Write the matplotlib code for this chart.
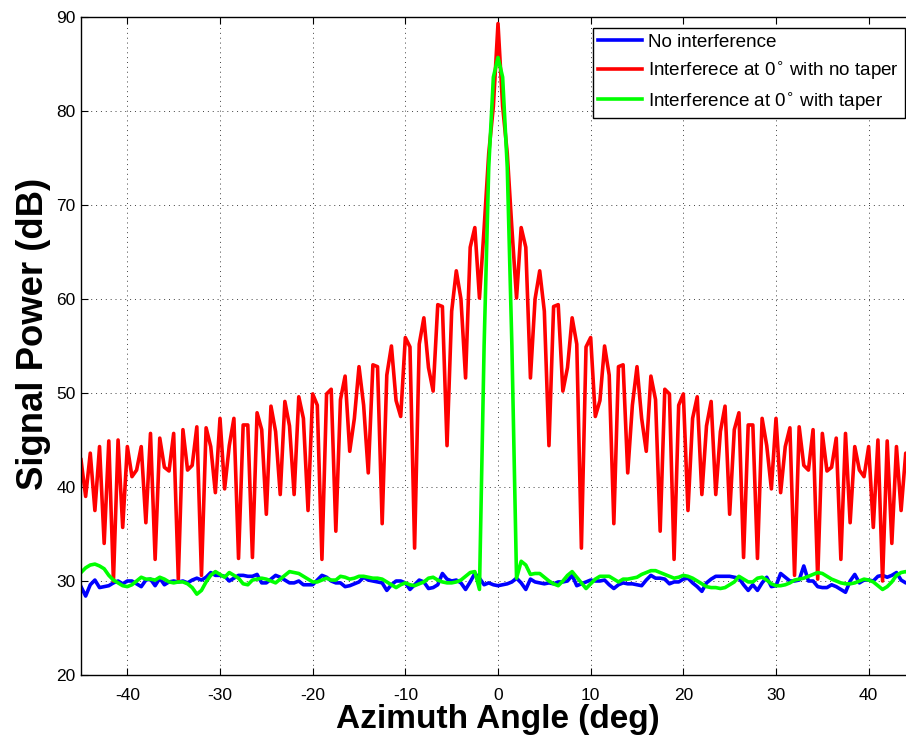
import numpy as np
import matplotlib
matplotlib.use("Agg")
import matplotlib.pyplot as plt

plt.rcParams['font.family'] = ['Liberation Sans', 'DejaVu Sans']
plt.rcParams['mathtext.fontset'] = 'dejavusans'
plt.rcParams['axes.unicode_minus'] = False

# azimuth samples, 0.5 deg apart
angle = np.linspace(-45, 45, 181)

# no interference (blue)
p_none = [
    29.4, 28.4, 29.6, 30.1, 29.3, 29.4, 29.5, 29.8, 30.0, 29.7, 30.0, 30.0, 29.7, 29.4, 30.1, 30.2,
    29.5, 30.3, 29.6, 29.9, 30.0, 29.9, 30.0, 29.8, 30.1, 30.3, 30.1, 30.4, 30.9, 30.6, 30.6,
    30.5, 30.0, 30.3, 30.6, 30.6, 30.5, 30.5, 30.7, 29.8, 29.8, 30.2, 30.6, 30.4, 30.1, 29.8,
    29.8, 30.0, 29.6, 29.6, 29.6, 30.1, 30.6, 30.4, 30.0, 29.8, 29.8, 29.4, 29.5, 29.7, 29.9,
    30.4, 30.1, 30.0, 29.9, 29.8, 29.0, 29.6, 30.0, 30.0, 29.8, 29.1, 29.6, 30.1, 29.9, 29.2,
    29.3, 29.6, 30.8, 30.2, 30.0, 30.1, 29.8, 29.1, 29.9, 30.8, 30.3, 29.6, 29.8, 29.6,
    29.5,
    29.6, 29.7, 29.9, 30.3, 29.8, 29.1, 30.2, 29.9, 29.8, 29.7, 29.8, 29.7, 29.9, 29.9, 30.0,
    30.6, 29.5, 29.7, 29.9, 30.1, 30.0, 30.0, 30.1, 29.6, 29.2, 29.6, 29.8, 29.7, 29.7, 29.6,
    29.5, 30.1, 30.6, 30.3, 30.3, 30.2, 29.7, 29.9, 29.9, 30.2, 30.3, 29.8, 29.4, 28.9, 29.8,
    30.2, 30.5, 30.5, 30.5, 30.5, 30.4, 30.3, 29.6, 29.0, 29.6, 29.0, 29.8, 30.4, 29.4,
    29.5, 30.8, 30.4, 30.0, 30.0, 30.1, 31.6, 30.0, 30.0, 29.4, 29.3, 29.3, 29.6, 29.4, 29.1,
    28.8, 30.0, 30.7, 29.8, 30.1, 30.1, 30.0, 30.5, 30.6, 30.4, 30.6, 30.9, 30.1, 29.8, 29.9, 29.8,
]

# interference at 0 deg, no taper (red)
p_notaper = [
    42.9, 39.0, 43.6, 37.5, 44.3, 34.0, 44.9, 30.0, 45.0, 35.7,
    44.3, 41.1, 41.8, 44.3, 36.2, 45.7, 32.3, 45.2, 42.1, 41.7,
    45.7, 30.2, 46.1, 41.8, 42.3, 46.4, 30.6, 46.3, 44.3, 39.4,
    47.3, 39.8, 44.4, 47.3, 32.4, 46.6, 46.6, 32.5, 47.9, 46.1,
    37.1, 48.6, 45.9, 39.2, 49.1, 46.5, 39.2, 49.6, 47.3, 37.5,
    49.9, 48.7, 32.3, 49.9, 50.4, 35.3, 49.3, 51.8, 43.8, 47.3,
    52.8, 48.7, 41.5, 53.0, 52.8, 36.1, 51.9, 55.0, 49.2, 47.5,
    55.9, 54.9, 33.5, 55.2, 58.0, 52.7, 50.2, 59.4, 59.2, 44.4,
    58.7, 63.0, 60.0, 51.6, 65.5, 67.6, 60.1, 67.5, 75.5, 80.5,
    89.3,
    80.5, 75.5, 67.5, 60.1, 67.6, 65.5, 51.6, 60.0, 63.0, 58.7,
    44.4, 59.2, 59.4, 50.2, 52.7, 58.0, 55.2, 33.5, 54.9, 55.9,
    47.5, 49.2, 55.0, 51.9, 36.1, 52.8, 53.0, 41.5, 48.7, 52.8,
    47.3, 43.8, 51.8, 49.3, 35.3, 50.4, 49.9, 32.3, 48.7, 49.9,
    37.5, 47.3, 49.6, 39.2, 46.5, 49.1, 39.2, 45.9, 48.6, 37.1,
    46.1, 47.9, 32.5, 46.6, 46.6, 32.4, 47.3, 44.4, 39.8, 47.3,
    39.4, 44.3, 46.3, 30.6, 46.4, 42.3, 41.8, 46.1, 30.2, 45.7,
    41.7, 42.1, 45.2, 32.3, 45.7, 36.2, 44.3, 41.8, 41.1, 44.3,
    35.7, 45.0, 30.0, 44.9, 34.0, 44.3, 37.5, 43.6, 39.0, 42.9,
]

# interference at 0 deg, with taper (green)
p_taper = [
    30.9, 31.4, 31.7, 31.8, 31.6, 31.3, 30.6, 30.1, 29.8, 29.5, 29.4, 29.6, 30.0, 30.4, 30.2, 30.2,
    30.1, 30.4, 30.2, 29.9, 29.8, 29.9, 29.9, 29.7, 29.3, 28.6, 29.0, 29.9, 30.6, 31.0, 30.7,
    30.4, 30.9, 30.6, 30.3, 29.7, 29.6, 30.1, 30.2, 30.3, 30.2, 30.0, 29.8, 30.2, 30.6, 31.0,
    30.9, 30.8, 30.5, 30.2, 29.9, 29.9, 30.1, 30.3, 30.1, 30.1, 30.5, 30.4, 30.2, 30.3, 30.5,
    30.5, 30.4, 30.3, 30.3, 30.2, 29.9, 29.6, 29.3, 29.6, 29.8, 29.6, 29.5, 29.7, 29.9, 30.3,
    30.4, 30.1, 29.9, 29.8, 29.8, 29.9, 30.1, 30.5, 30.9, 31.0, 29.1,
    55.0, 74.0, 83.6, 85.7, 83.6, 74.0, 55.0,
    30.3, 32.1, 31.7, 30.7, 30.8, 30.8, 30.4, 30.0, 29.7, 29.5, 30.0, 30.6, 31.0, 30.4, 29.8,
    29.2, 29.7, 30.2, 30.5, 30.5, 30.5, 30.2, 29.9, 30.2, 30.2, 30.3, 30.4, 30.7, 30.9, 31.1,
    31.1, 30.9, 30.7, 30.5, 30.3, 30.4, 30.6, 30.5, 30.3, 30.0, 29.7, 29.4,
    29.3, 29.3, 29.2, 29.3, 29.6, 29.9, 30.5, 30.2, 29.9, 29.9, 30.3, 30.4, 30.1, 29.7, 29.5,
    29.5, 29.6, 29.8, 30.1, 30.2, 30.3, 30.5, 30.7, 30.9, 30.8, 30.5, 30.2, 30.0, 29.8, 29.7,
    29.7, 29.8, 30.0, 30.2, 30.1, 29.9, 29.5, 29.1, 29.4, 29.9, 30.6, 30.9, 31.0, 30.8, 30.6,
]

labels = ['No interference',
          r'Interferece at 0$^{\circ}$ with no taper',
          r'Interference at 0$^{\circ}$ with taper']

fig = plt.figure(figsize=(9.06, 7.38), dpi=100)
# right edge of the axes runs past the picture, as in the reference
ax = fig.add_axes([81 / 906, 63 / 738, 834 / 906, 658 / 738])

ax.plot(angle, p_none, color=(0, 0, 1), lw=2.6, label=labels[0])
ax.plot(angle, p_notaper, color=(1, 0, 0), lw=2.6, label=labels[1])
ax.plot(angle, p_taper, color=(0, 1, 0), lw=2.6, label=labels[2])

ax.set_xlim(-45, 45)
ax.set_ylim(20, 90)
ax.set_xticks(np.arange(-40, 41, 10))
ax.set_yticks(np.arange(20, 91, 10))
ax.tick_params(direction='in', top=True, right=True, length=5, width=0.8,
               labelsize=12.5)
ax.tick_params(axis='x', pad=9)
ax.tick_params(axis='y', pad=4)
for s in ax.spines.values():
    s.set_linewidth(1.0)

ax.grid(True, color='0.25', linestyle=(0, (1, 4)), linewidth=0.7)

ax.set_xlabel('Azimuth Angle (deg)', fontsize=24, fontweight='bold', labelpad=1)
ax.set_ylabel('Signal Power (dB)', fontsize=26.3, fontweight='bold')
ax.yaxis.set_label_coords(-0.036, 0.518)

leg = ax.legend(loc='upper right', bbox_to_anchor=(905 / 906, 1 - 28 / 738),
                bbox_transform=fig.transFigure, fontsize=13.6, frameon=True,
                fancybox=False, framealpha=1, edgecolor='black',
                handlelength=2.3, handletextpad=0.35, labelspacing=0.45,
                borderpad=0.3, borderaxespad=0)
leg.get_frame().set_linewidth(1.0)

fig.savefig('out.png', dpi=100)
